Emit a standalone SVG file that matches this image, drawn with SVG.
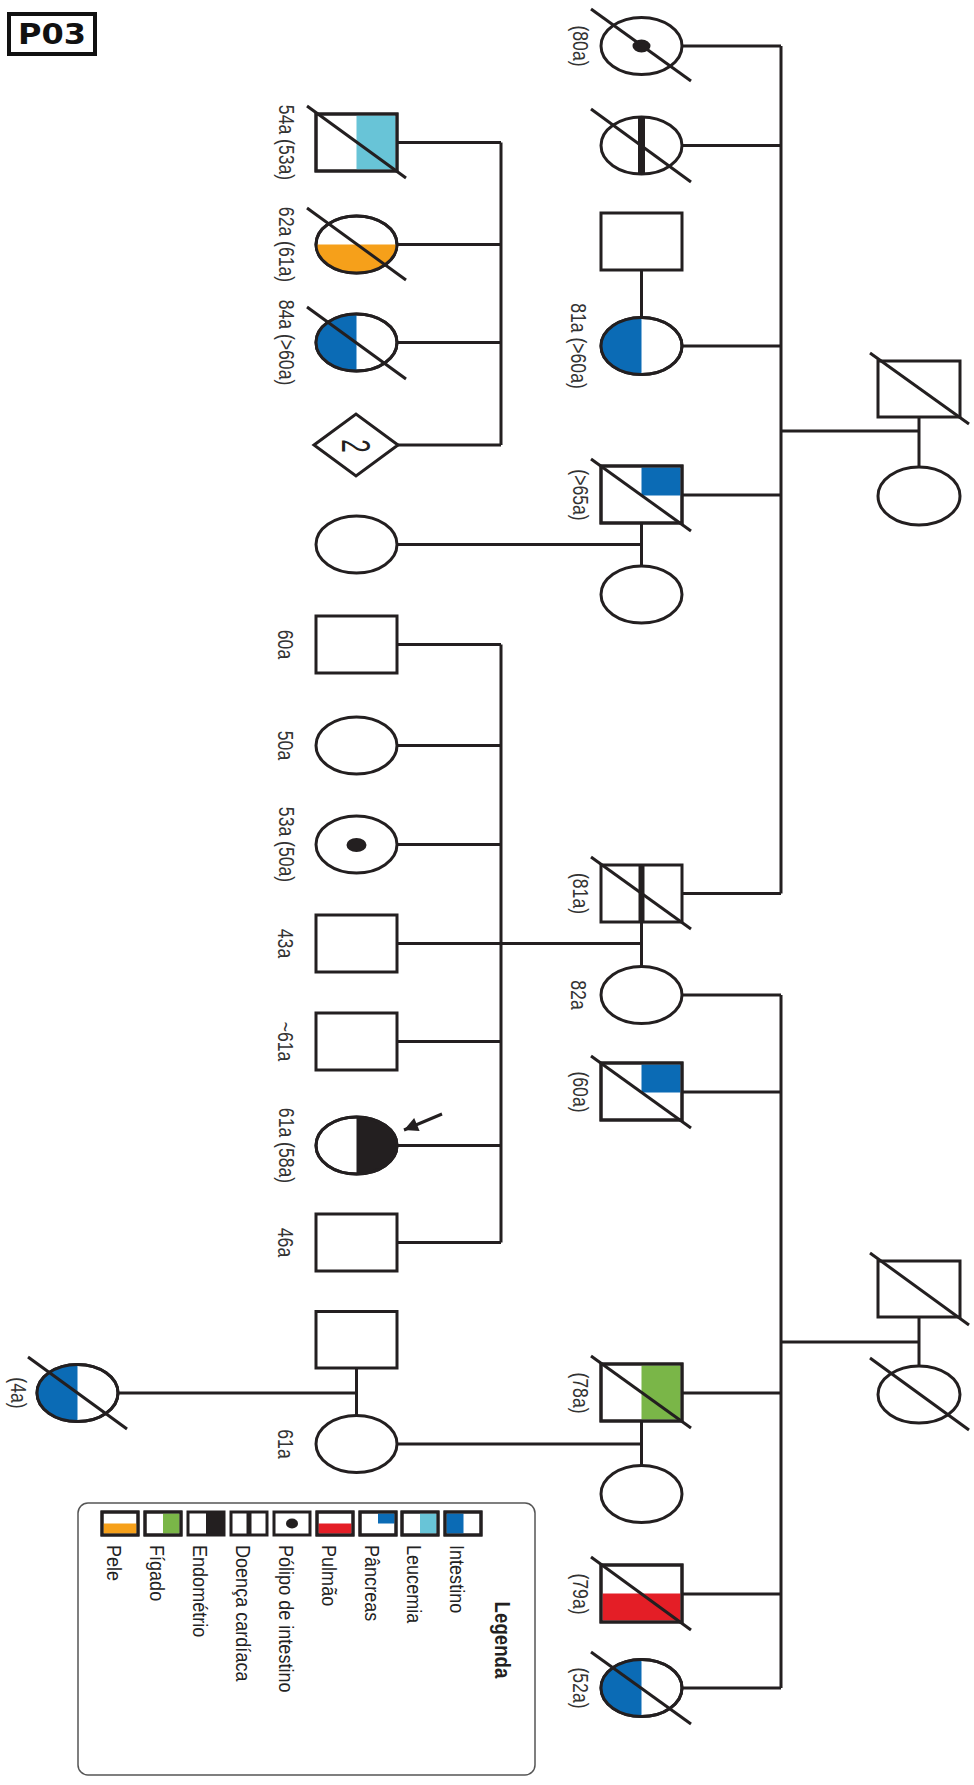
<svg xmlns="http://www.w3.org/2000/svg" width="974" height="1785" viewBox="0 0 974 1785">
<style>
.o{fill:#fff;stroke:#231f20;stroke-width:3}
.n{fill:none;stroke:#231f20;stroke-width:3}
.ln{fill:none;stroke:#231f20;stroke-width:3}
.dc{stroke:#231f20;stroke-width:3}
.bl{fill:#0b6bb5}
.lb{fill:#68c4d7}
.or{fill:#f6a01a}
.gr{fill:#7ab648}
.rd{fill:#e41e26}
.bk{fill:#231f20}
.t{font-family:"Liberation Sans",Arial,Helvetica,sans-serif;font-size:22px;fill:#333;text-anchor:middle}
.lt{font-family:"Liberation Sans",Arial,Helvetica,sans-serif;font-size:21px;fill:#222}
.sw{fill:#fff;stroke:#231f20;stroke-width:3}
</style>
<defs>
<marker id="ah" viewBox="0 0 10 10" refX="10" refY="5" markerWidth="20" markerHeight="14" markerUnits="userSpaceOnUse" orient="auto">
<path d="M0,0 L10,5 L0,10 Z" fill="#231f20"/>
</marker>
</defs>

<rect width="974" height="1785" fill="#fff"/>

<g id="title">
<rect x="9" y="14" width="86" height="40" fill="#fff" stroke="#111" stroke-width="4"/>
<text x="18" y="44" font-family="'DejaVu Sans',Verdana,sans-serif" font-weight="bold" font-size="28" textLength="68" lengthAdjust="spacingAndGlyphs" fill="#111">P03</text>
</g>

<g id="connectors">
<path class="ln" d="M919 417V467M781 431H919"/>
<path class="ln" d="M781 46V893.5M682 46H781M682 145.5H781M682 346H781M682 495H781M682 893.5H781"/>
<path class="ln" d="M919 1317V1366M781 1342H919"/>
<path class="ln" d="M781 995V1688M682 995H781M682 1092H781M682 1393H781M682 1594H781M682 1688H781"/>
<path class="ln" d="M641.5 270V317.5M641.5 523V566M641.5 922V966.5M641.5 1421V1465.5"/>
<path class="ln" d="M397 544.5H641.5M397 943.5H641.5M397 1444H641.5"/>
<path class="ln" d="M501 142.5V445M397 142.5H501M397 244.5H501M397 342.5H501M398 445H501"/>
<path class="ln" d="M501 644.5V1242.5M397 644.5H501M397 745.5H501M397 844.5H501M397 1041.5H501M397 1145.5H501M397 1242.5H501"/>
<path class="ln" d="M356.5 1368V1415.5M118 1393H356.5"/>
<line x1="442" y1="1114" x2="404" y2="1130" stroke="#231f20" stroke-width="3" marker-end="url(#ah)"/>
</g>

<g id="gen1-top-male"><rect class="o" x="878" y="361" width="82" height="56"/><line class="dc" x1="870" y1="353" x2="969" y2="424"/></g>
<g id="gen1-top-female"><ellipse class="o" cx="919" cy="496" rx="41" ry="29"/></g>
<g id="gen1-bot-male"><rect class="o" x="878" y="1261" width="82" height="56"/><line class="dc" x1="870" y1="1253" x2="969" y2="1325"/></g>
<g id="gen1-bot-female"><ellipse class="o" cx="919" cy="1394.5" rx="41" ry="28.5"/><line class="dc" x1="870" y1="1358" x2="969" y2="1430"/></g>

<g id="n-80a"><ellipse class="o" cx="641.5" cy="46" rx="40.5" ry="28.5"/><ellipse class="bk" cx="641.5" cy="46" rx="9" ry="6.5"/><line class="dc" x1="591" y1="9" x2="691" y2="81"/>
<text class="t" transform="translate(573,46) rotate(90) scale(0.8,1)">(80a)</text></g>
<g id="n-heart-f"><ellipse class="o" cx="641.5" cy="145.5" rx="40.5" ry="28.5"/><line x1="641.5" y1="117" x2="641.5" y2="174" stroke="#231f20" stroke-width="7"/><line class="dc" x1="591" y1="109" x2="691" y2="182"/></g>
<g id="n-spouse1"><rect class="o" x="601" y="213" width="81" height="57"/></g>
<g id="n-81a"><ellipse class="o" cx="641.5" cy="346" rx="40.5" ry="28.5"/><path class="bl" d="M641.5 317.5A40.5 28.5 0 0 0 641.5 374.5Z"/><ellipse class="n" cx="641.5" cy="346" rx="40.5" ry="28.5"/>
<text class="t" transform="translate(571,346) rotate(90) scale(0.8,1)">81a (&gt;60a)</text></g>
<g id="n-65a"><rect class="o" x="601" y="466" width="81" height="57"/><rect class="bl" x="641.5" y="467.5" width="39" height="28"/><rect class="n" x="601" y="466" width="81" height="57"/><line class="dc" x1="591" y1="459" x2="691" y2="531"/>
<text class="t" transform="translate(573,495) rotate(90) scale(0.8,1)">(&gt;65a)</text></g>
<g id="n-spouse2"><ellipse class="o" cx="641.5" cy="594.5" rx="40.5" ry="28.5"/></g>
<g id="n-81a-m"><rect class="o" x="601" y="865" width="81" height="57"/><line x1="641.5" y1="865" x2="641.5" y2="922" stroke="#231f20" stroke-width="6"/><line class="dc" x1="591" y1="857" x2="691" y2="929"/>
<text class="t" transform="translate(573,893.5) rotate(90) scale(0.8,1)">(81a)</text></g>

<g id="n-82a"><ellipse class="o" cx="641.5" cy="995" rx="40.5" ry="28.5"/>
<text class="t" transform="translate(571,995) rotate(90) scale(0.8,1)">82a</text></g>
<g id="n-60a-m"><rect class="o" x="601" y="1063" width="81" height="57"/><rect class="bl" x="641.5" y="1064.5" width="39" height="28"/><rect class="n" x="601" y="1063" width="81" height="57"/><line class="dc" x1="591" y1="1056" x2="691" y2="1128"/>
<text class="t" transform="translate(573,1092) rotate(90) scale(0.8,1)">(60a)</text></g>
<g id="n-78a"><rect class="o" x="601" y="1364" width="81" height="57"/><rect class="gr" x="641.5" y="1365.5" width="39" height="54"/><rect class="n" x="601" y="1364" width="81" height="57"/><line class="dc" x1="591" y1="1356" x2="691" y2="1428"/>
<text class="t" transform="translate(573,1393) rotate(90) scale(0.8,1)">(78a)</text></g>
<g id="n-spouse3"><ellipse class="o" cx="641.5" cy="1494" rx="40.5" ry="28.5"/></g>
<g id="n-79a"><rect class="o" x="601" y="1565" width="81" height="57"/><rect class="rd" x="602.5" y="1593.5" width="78" height="27"/><rect class="n" x="601" y="1565" width="81" height="57"/><line class="dc" x1="591" y1="1557" x2="691" y2="1630"/>
<text class="t" transform="translate(573,1594) rotate(90) scale(0.8,1)">(79a)</text></g>
<g id="n-52a"><ellipse class="o" cx="641.5" cy="1688" rx="40.5" ry="28.5"/><path class="bl" d="M641.5 1659.5A40.5 28.5 0 0 0 641.5 1716.5Z"/><ellipse class="n" cx="641.5" cy="1688" rx="40.5" ry="28.5"/><line class="dc" x1="591" y1="1652" x2="691" y2="1724"/>
<text class="t" transform="translate(573,1688) rotate(90) scale(0.8,1)">(52a)</text></g>

<g id="n-54a"><rect class="o" x="316" y="114" width="81" height="57"/><rect class="lb" x="356.5" y="115.5" width="39" height="54"/><rect class="n" x="316" y="114" width="81" height="57"/><line class="dc" x1="307" y1="106" x2="406" y2="178"/>
<text class="t" transform="translate(279,142.5) rotate(90) scale(0.8,1)">54a (53a)</text></g>
<g id="n-62a"><ellipse class="o" cx="356.5" cy="244.5" rx="40.5" ry="28.5"/><path class="or" d="M316 244.5A40.5 28.5 0 0 0 397 244.5Z"/><ellipse class="n" cx="356.5" cy="244.5" rx="40.5" ry="28.5"/><line class="dc" x1="307" y1="208" x2="406" y2="280"/>
<text class="t" transform="translate(279,244.5) rotate(90) scale(0.8,1)">62a (61a)</text></g>
<g id="n-84a"><ellipse class="o" cx="356.5" cy="342.5" rx="40.5" ry="28.5"/><path class="bl" d="M356.5 314A40.5 28.5 0 0 0 356.5 371Z"/><ellipse class="n" cx="356.5" cy="342.5" rx="40.5" ry="28.5"/><line class="dc" x1="307" y1="307" x2="406" y2="379"/>
<text class="t" transform="translate(279,342.5) rotate(90) scale(0.8,1)">84a (&gt;60a)</text></g>
<g id="n-diamond"><polygon class="o" points="314,445 356,414 398,445 356,476"/>
<text transform="translate(342,446) rotate(90) scale(0.6,1)" font-family="'Liberation Sans',Arial,sans-serif" font-size="40" fill="#231f20" text-anchor="middle">2</text></g>
<g id="n-c5"><ellipse class="o" cx="356.5" cy="544.5" rx="40.5" ry="28.5"/></g>

<g id="n-60a"><rect class="o" x="316" y="616" width="81" height="57"/>
<text class="t" transform="translate(278,644.5) rotate(90) scale(0.8,1)">60a</text></g>
<g id="n-50a"><ellipse class="o" cx="356.5" cy="745.5" rx="40.5" ry="28.5"/>
<text class="t" transform="translate(278,745.5) rotate(90) scale(0.8,1)">50a</text></g>
<g id="n-53a"><ellipse class="o" cx="356.5" cy="844.5" rx="40.5" ry="28.5"/><ellipse class="bk" cx="356.5" cy="845" rx="10" ry="7"/>
<text class="t" transform="translate(279,844.5) rotate(90) scale(0.8,1)">53a (50a)</text></g>
<g id="n-43a"><rect class="o" x="316" y="915" width="81" height="57"/>
<text class="t" transform="translate(278,943.5) rotate(90) scale(0.8,1)">43a</text></g>
<g id="n-61a-m"><rect class="o" x="316" y="1013" width="81" height="57"/>
<text class="t" transform="translate(278,1041.5) rotate(90) scale(0.8,1)">~61a</text></g>
<g id="n-proband"><ellipse class="o" cx="356.5" cy="1145.5" rx="40.5" ry="28.5"/><path class="bk" d="M356.5 1117A40.5 28.5 0 0 1 356.5 1174Z"/><ellipse class="n" cx="356.5" cy="1145.5" rx="40.5" ry="28.5"/>
<text class="t" transform="translate(279,1145.5) rotate(90) scale(0.8,1)">61a (58a)</text></g>
<g id="n-46a"><rect class="o" x="316" y="1214" width="81" height="57"/>
<text class="t" transform="translate(278,1242.5) rotate(90) scale(0.8,1)">46a</text></g>
<g id="n-spouse4"><rect class="o" x="316" y="1311.5" width="81" height="56.5"/></g>
<g id="n-61a-f"><ellipse class="o" cx="356.5" cy="1444" rx="40.5" ry="28.5"/>
<text class="t" transform="translate(278,1444) rotate(90) scale(0.8,1)">61a</text></g>
<g id="n-4a"><ellipse class="o" cx="77.5" cy="1393" rx="40.5" ry="28.5"/><path class="bl" d="M77.5 1364.5A40.5 28.5 0 0 0 77.5 1421.5Z"/><ellipse class="n" cx="77.5" cy="1393" rx="40.5" ry="28.5"/><line class="dc" x1="28" y1="1357" x2="127" y2="1429"/>
<text class="t" transform="translate(11,1393) rotate(90) scale(0.8,1)">(4a)</text></g>

<g id="legend">
<rect x="78" y="1503" width="457" height="272" rx="10" fill="#fff" stroke="#555" stroke-width="1.5"/>
<text transform="translate(495,1640) rotate(90) scale(0.85,1)" font-family="'Liberation Sans',Arial,sans-serif" font-weight="bold" font-size="22" fill="#231f20" text-anchor="middle">Legenda</text>
<rect class="sw" x="445" y="1512" width="36" height="23"/><rect class="bl" x="446.5" y="1513.5" width="17" height="20"/><rect class="n" x="445" y="1512" width="36" height="23"/>
<rect class="sw" x="402" y="1512" width="36" height="23"/><rect class="lb" x="420" y="1513.5" width="16.5" height="20"/><rect class="n" x="402" y="1512" width="36" height="23"/>
<rect class="sw" x="360" y="1512" width="36" height="23"/><rect class="bl" x="378" y="1513.5" width="16.5" height="10"/><rect class="n" x="360" y="1512" width="36" height="23"/>
<rect class="sw" x="317" y="1512" width="36" height="23"/><rect class="rd" x="318.5" y="1523.5" width="33" height="10"/><rect class="n" x="317" y="1512" width="36" height="23"/>
<rect class="sw" x="274" y="1512" width="36" height="23"/><ellipse class="bk" cx="292" cy="1523.5" rx="6" ry="5"/>
<rect class="sw" x="231" y="1512" width="36" height="23"/><line x1="249" y1="1512" x2="249" y2="1535" stroke="#231f20" stroke-width="5"/>
<rect class="sw" x="188" y="1512" width="36" height="23"/><rect class="bk" x="206" y="1512" width="18" height="23"/>
<rect class="sw" x="145" y="1512" width="36" height="23"/><rect class="gr" x="163" y="1513.5" width="16.5" height="20"/><rect class="n" x="145" y="1512" width="36" height="23"/>
<rect class="sw" x="102" y="1512" width="36" height="23"/><rect class="or" x="103.5" y="1523.5" width="33" height="10"/><rect class="n" x="102" y="1512" width="36" height="23"/>
<text class="lt" transform="translate(450,1545) rotate(90) scale(0.86,1)">Intestino</text>
<text class="lt" transform="translate(407,1545) rotate(90) scale(0.86,1)">Leucemia</text>
<text class="lt" transform="translate(365,1545) rotate(90) scale(0.86,1)">Pâncreas</text>
<text class="lt" transform="translate(322,1545) rotate(90) scale(0.86,1)">Pulmão</text>
<text class="lt" transform="translate(279,1545) rotate(90) scale(0.86,1)">Pólipo de intestino</text>
<text class="lt" transform="translate(236,1545) rotate(90) scale(0.86,1)">Doença cardíaca</text>
<text class="lt" transform="translate(193,1545) rotate(90) scale(0.86,1)">Endométrio</text>
<text class="lt" transform="translate(150,1545) rotate(90) scale(0.86,1)">Fígado</text>
<text class="lt" transform="translate(107,1545) rotate(90) scale(0.86,1)">Pele</text>
</g>
</svg>
